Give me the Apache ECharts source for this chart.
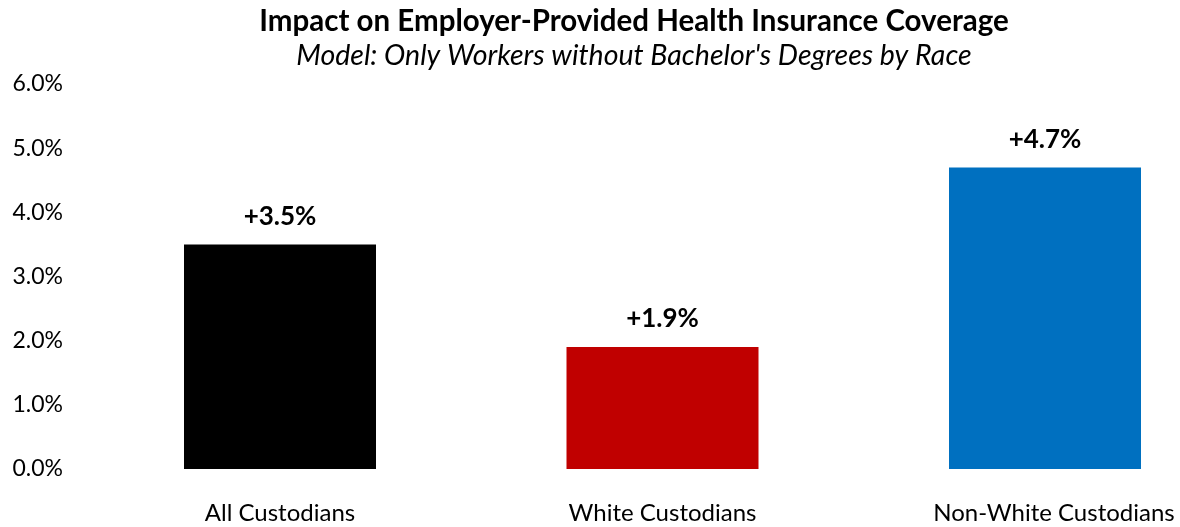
<!DOCTYPE html>
<html>
<head>
<meta charset="utf-8">
<script src="https://cdn.jsdelivr.net/npm/echarts@6/dist/echarts.min.js"></script>
<style>
  html, body { margin: 0; padding: 0; background: #ffffff; }
  #chart { width: 1180px; height: 527px; }
</style>
</head>
<body>
<div id="chart"></div>
<script>
// Change in employer-provided health insurance coverage, percentage points
const categories = ['All Custodians', 'White Custodians', 'Non-White Custodians'];
const impactValues = [3.5, 1.9, 4.7];
const barColors = ['#000000', '#C00000', '#0070C0'];
const yTicks = [0, 1, 2, 3, 4, 5, 6];

const FONT = 'Lato, "Open Sans", sans-serif';

const chart = echarts.init(document.getElementById('chart'), null, { renderer: 'canvas' });

chart.setOption({
  animation: false,
  backgroundColor: '#ffffff',
  title: [
    {
      text: 'Impact on Employer-Provided Health Insurance Coverage',
      left: 629,
      top: 1,
      textAlign: 'center',
      textStyle: { fontFamily: FONT, fontSize: 29.5, fontWeight: 'bold', color: '#000000' }
    },
    {
      text: "Model: Only Workers without Bachelor's Degrees by Race",
      left: 629,
      top: 36,
      textAlign: 'center',
      textStyle: { fontFamily: FONT, fontSize: 28.5, fontWeight: 'normal', fontStyle: 'italic', color: '#000000' }
    }
  ],
  grid: {
    left: 88.75, width: 1147.5, top: 84, height: 385,
    containLabel: false, outerBoundsMode: 'none'
  },
  xAxis: {
    type: 'category',
    data: categories.map((c, i) => i === 2
      ? { value: c, textStyle: { padding: [0, 0, 0, 18] } }
      : { value: c }),
    axisLine: { show: false },
    axisTick: { show: false },
    splitLine: { show: false },
    axisLabel: { fontFamily: FONT, fontSize: 24, color: '#000000', margin: 32 }
  },
  yAxis: {
    type: 'value',
    min: yTicks[0],
    max: yTicks[yTicks.length - 1],
    interval: 1,
    axisLine: { show: false },
    axisTick: { show: false },
    splitLine: { show: false },
    axisLabel: {
      fontFamily: FONT, fontSize: 23, color: '#000000', margin: 25.75,
      formatter: v => v.toFixed(1) + '%'
    }
  },
  series: [{
    type: 'bar',
    barWidth: 192,
    data: impactValues.map((v, i) => ({ value: v, itemStyle: { color: barColors[i] } })),
    label: {
      show: true,
      position: 'top',
      distance: 15,
      fontFamily: FONT,
      fontSize: 26,
      fontWeight: 'bold',
      color: '#000000',
      formatter: p => '+' + p.value.toFixed(1) + '%'
    }
  }]
});
</script>
</body>
</html>
